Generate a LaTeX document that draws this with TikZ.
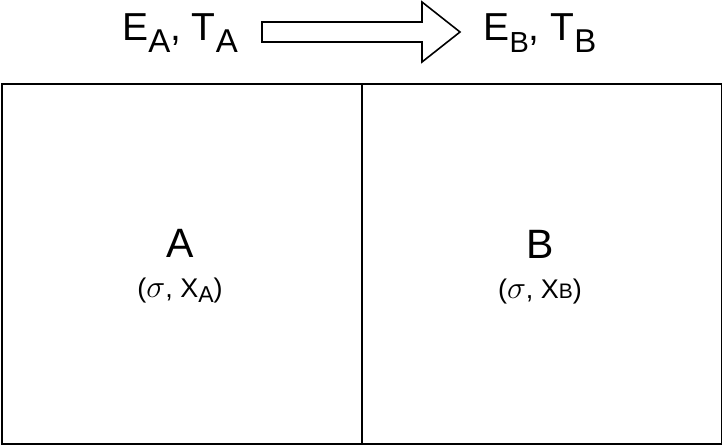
\RequirePackage{fix-cm}
\documentclass[tikz,border=0pt]{standalone}
\usepackage{fontspec}
\setmainfont{Liberation Sans}
\newcommand{\sig}{{\fontsize{32}{36}\selectfont$\sigma$}}
\begin{document}
\begin{tikzpicture}[x=1pt,y=-1pt,
  boxstyle/.style={draw=black,line width=1.6pt},
  arrowstyle/.style={draw=black,line width=1.6pt,fill=white,line join=miter},
  bigtxt/.style={inner sep=0pt,anchor=base,font=\fontsize{39}{44}\selectfont},
  boxlbl/.style={inner sep=0pt,anchor=base,font=\fontsize{41}{46}\selectfont},
  sublbl/.style={inner sep=0pt,anchor=base,font=\fontsize{27}{32}\selectfont}]
\useasboundingbox (0,0) rectangle (722,444);
\node[boxstyle,minimum width=360pt,minimum height=360pt,inner sep=0pt,anchor=north west] (boxA) at (1,83) {};
\node[boxstyle,minimum width=360pt,minimum height=360pt,inner sep=0pt,anchor=north west] (boxB) at (361,83) {};
\draw[arrowstyle] (262,22) -- (422,22) -- (422,2) -- (460,32) -- (422,62) -- (422,42) -- (262,42) -- cycle;
\node[bigtxt] (ea) at (180,41) {E\raisebox{-0.3em}{\fontsize{33}{38}\selectfont A}, T\raisebox{-0.3em}{\fontsize{33}{38}\selectfont A}};
\node[bigtxt] (eb) at (540,41) {E\raisebox{-0.3em}{\fontsize{29}{34}\selectfont B}, T\raisebox{-0.3em}{\fontsize{33}{38}\selectfont B}};
\node[boxlbl] (la) at (180,257) {A};
\node[sublbl] (sa) at (180,297) {(\sig, X\raisebox{-0.22em}{\fontsize{23}{28}\selectfont A})};
\node[boxlbl] (lb) at (540,258) {B};
\node[sublbl] (sb) at (540,298) {(\sig, X{\fontsize{21}{25}\selectfont B})};
\end{tikzpicture}
\end{document}
